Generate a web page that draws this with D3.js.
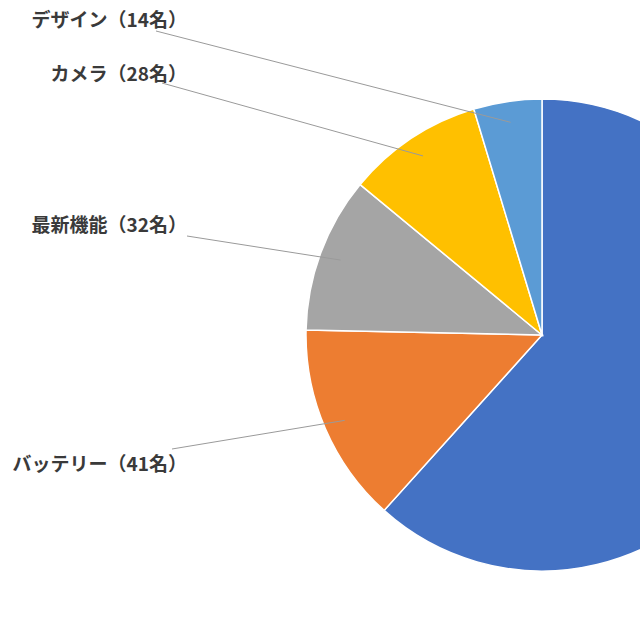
<!DOCTYPE html>
<html>
<head>
<meta charset="utf-8">
<script src="https://cdn.jsdelivr.net/npm/d3@7"></script>
<style>
  body { margin: 0; background: #fff; }
  svg { display: block; }
</style>
</head>
<body>
<svg id="chart" width="640" height="640"></svg>
<script>
// slices, clockwise from 12 o'clock
const categories = ['その他', 'バッテリー', '最新機能', 'カメラ', 'デザイン'];
const counts = [185, 41, 32, 28, 14];
const colors = ['#4472C4', '#ED7D31', '#A5A5A5', '#FFC000', '#5B9BD5'];
const showLabel = [false, true, true, true, true];

// where each label sits (text-end x, middle y) and where its leader line starts
const labelLayout = [
  null,
  { x: 187, y: 462, lx: 172, ly: 449 },
  { x: 187, y: 223, lx: 187, ly: 236 },
  { x: 187, y: 72, lx: 162, ly: 83 },
  { x: 187, y: 18, lx: 156, ly: 31 }
];

const cx = 542, cy = 335, radius = 236;

const svg = d3.select('#chart');
const g = svg.append('g').attr('transform', `translate(${cx},${cy})`);

const rows = categories.map((c, i) => ({ name: c, value: counts[i], color: colors[i], i: i }));

const pie = d3.pie().sort(null).value(d => d.value);
const arc = d3.arc().innerRadius(0).outerRadius(radius);
const leaderArc = d3.arc().innerRadius(215).outerRadius(215);

const arcs = pie(rows);

g.selectAll('path.slice')
    .data(arcs)
    .enter().append('path')
    .attr('class', 'slice')
    .attr('d', arc)
    .attr('fill', d => d.data.color)
    .attr('stroke', '#fff')
    .attr('stroke-width', 1.5);

const labelled = arcs.filter(d => showLabel[d.data.i]);

// leader lines
svg.selectAll('line.leader')
    .data(labelled)
    .enter().append('line')
    .attr('class', 'leader')
    .attr('x1', d => labelLayout[d.data.i].lx)
    .attr('y1', d => labelLayout[d.data.i].ly)
    .attr('x2', d => cx + leaderArc.centroid(d)[0])
    .attr('y2', d => cy + leaderArc.centroid(d)[1])
    .attr('stroke', '#9a9a9a')
    .attr('stroke-width', 1);

svg.selectAll('text.label')
    .data(labelled)
    .enter().append('text')
    .attr('class', 'label')
    .attr('x', d => labelLayout[d.data.i].x)
    .attr('y', d => labelLayout[d.data.i].y)
    .attr('text-anchor', 'end')
    .attr('dominant-baseline', 'central')
    .attr('font-family', '"Noto Sans CJK JP", "Noto Sans", sans-serif')
    .attr('font-weight', 'bold')
    .attr('font-size', '19px')
    .attr('fill', '#3a3a3a')
    .text(d => `${d.data.name}（${d.data.value}名）`);
</script>
</body>
</html>
